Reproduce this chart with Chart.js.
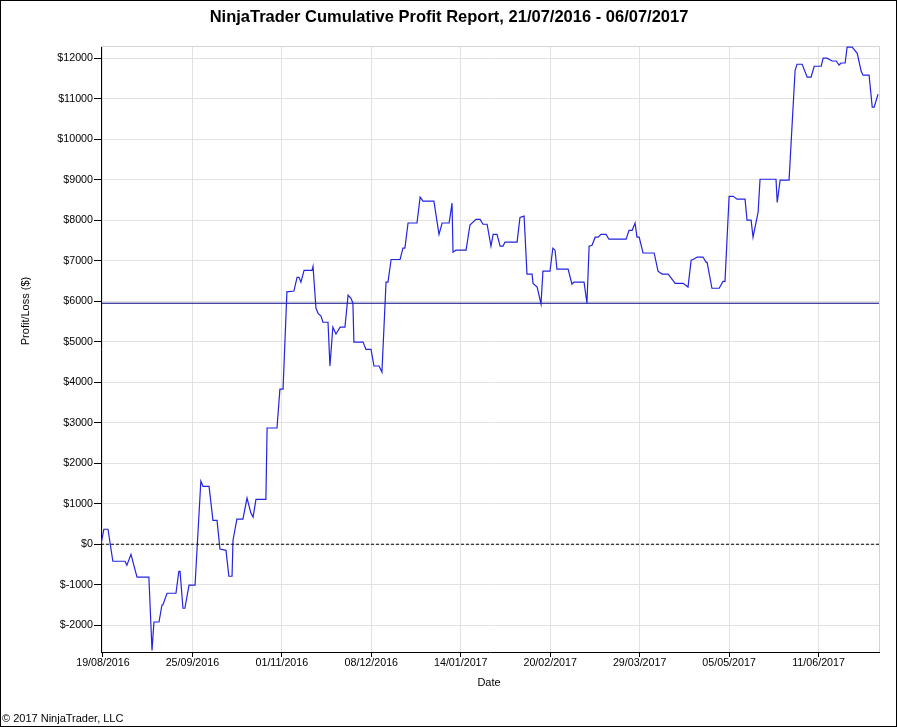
<!DOCTYPE html>
<html>
<head>
<meta charset="utf-8">
<script src="https://cdn.jsdelivr.net/npm/chart.js@4.4.1/dist/chart.umd.min.js"></script>
<style>
html,body{margin:0;padding:0;background:#fff;}
#wrap{width:898px;height:727px;position:relative;}
canvas{display:block;}
</style>
</head>
<body>
<div id="wrap"><canvas id="c" width="898" height="727"></canvas></div>
<script>
// ---- data (days counted from 19/08/2016) ----
const titleText = "NinjaTrader Cumulative Profit Report, 21/07/2016 - 06/07/2017";
const tickLabels = ["19/08/2016","25/09/2016","01/11/2016","08/12/2016","14/01/2017","20/02/2017","29/03/2017","05/05/2017","11/06/2017"];
const tickDays = [0,37,74,111,148,185,222,259,296];
const yTicks = [-2000,-1000,0,1000,2000,3000,4000,5000,6000,7000,8000,9000,10000,11000,12000];
const days = [
 -0.8,0.4,2.1,4.1,9.1,9.9,11.6,14.1,19.0,20.3,21.1,23.2,24.4,24.8,26.5,30.2,31.4,31.9,33.1,33.9,
 35.6,38.1,40.5,41.4,43.9,45.5,47.2,48.4,50.9,52.1,53.4,53.8,55.4,57.9,59.6,60.0,61.2,62.1,63.3,67.4,
 67.9,72.0,73.2,74.5,76.1,79.0,80.3,81.1,81.9,83.2,86.5,86.9,88.1,89.0,90.2,91.0,93.1,93.9,95.1,96.4,
 98.1,100.1,101.4,102.6,103.4,103.8,107.6,108.8,110.9,112.1,114.2,115.4,117.1,117.9,119.2,122.9,124.1,124.9,126.2,129.9,
 131.2,132.4,136.9,139.0,140.3,143.2,144.4,144.8,146.0,150.2,151.8,154.3,156.0,157.2,158.9,160.5,161.4,163.0,164.3,165.5,
 166.3,171.3,172.5,174.2,175.4,177.5,177.9,179.6,181.2,182.0,184.9,186.1,187.0,187.8,192.4,194.0,194.8,199.0,200.2,201.1,
 202.3,203.6,204.8,206.0,208.1,209.3,216.4,217.6,218.9,220.1,220.9,221.8,223.4,228.0,229.6,231.3,233.8,236.7,240.0,242.0,
 243.3,244.5,245.8,248.2,249.5,249.9,251.9,254.9,256.5,257.3,259.0,260.7,262.3,265.6,266.4,268.1,268.9,271.0,271.8,278.4,
 278.9,280.1,283.8,286.3,287.1,289.2,291.3,292.9,294.2,297.1,297.9,299.5,301.6,303.3,304.5,305.3,307.0,307.8,309.9,312.0,
 313.6,314.4,316.9,318.2,319.0,320.6
];
const profit = [
 0,370,370,-420,-420,-520,-250,-810,-810,-2620,-1920,-1920,-1500,-1500,-1210,-1210,-670,-670,-1580,-1580,
 -1010,-1010,1560,1430,1430,590,590,-120,-150,-790,-790,100,620,620,1140,1140,770,670,1110,1110,
 2870,2870,3830,3830,6230,6250,6590,6590,6470,6760,6760,6860,5830,5700,5630,5480,5480,4400,5360,5190,
 5360,5360,6150,6070,5950,4990,4990,4810,4810,4400,4400,4250,6470,6470,7030,7030,7310,7310,7930,7930,
 8570,8470,8470,7650,7930,7930,8420,7210,7260,7260,7880,8020,8020,7900,7900,7360,7650,7650,7360,7360,
 7460,7460,8070,8100,6670,6670,6440,6350,5930,6740,6740,7310,7260,6790,6790,6420,6470,6470,5950,7360,
 7380,7580,7580,7650,7650,7530,7530,7750,7750,7930,7580,7580,7190,7190,6740,6670,6670,6440,6440,6350,
 7010,7040,7090,7090,6960,6960,6320,6320,6490,6490,8590,8590,8520,8520,8000,8000,7580,8200,9010,9010,
 8440,8990,8990,11700,11850,11850,11530,11530,11800,11800,12000,12000,11930,11930,11830,11880,11880,12270,12270,12120,
 11680,11580,11580,10790,10790,11110
];
const avgValue = 5950;
const xRange = [-0.8, 321];
const yRange = [-2660, 12300];

const FONT = "'Liberation Sans', Arial, sans-serif";
Chart.defaults.font.family = FONT;
Chart.defaults.color = '#000';

const points = days.map((d, i) => ({x: d, y: profit[i]}));
const zeroPts = xRange.map(x => ({x: x, y: 0}));
const avgPts = xRange.map(x => ({x: x, y: avgValue}));

const decor = {
  id: 'decor',
  beforeDatasetsDraw(chart) {
    const {ctx, chartArea: a} = chart;
    ctx.save();
    ctx.strokeStyle = '#d4d4d4';
    ctx.lineWidth = 1;
    ctx.beginPath();
    ctx.moveTo(a.left, Math.round(a.top) + 0.5);
    ctx.lineTo(Math.round(a.right) + 0.5, Math.round(a.top) + 0.5);
    ctx.lineTo(Math.round(a.right) + 0.5, a.bottom);
    ctx.stroke();
    ctx.restore();
  },
  afterDraw(chart) {
    const ctx = chart.ctx;
    ctx.save();
    ctx.fillStyle = '#000';
    ctx.textAlign = 'center';
    ctx.textBaseline = 'middle';
    ctx.font = "bold 16.5px " + FONT;
    ctx.fillText(titleText, 449, 17.5);
    ctx.font = "11px " + FONT;
    ctx.fillText("Date", 489, 683);
    ctx.save();
    ctx.translate(26, 311);
    ctx.rotate(-Math.PI / 2);
    ctx.fillText("Profit/Loss ($)", 0, 0);
    ctx.restore();
    ctx.textAlign = 'left';
    ctx.font = "11px " + FONT;
    ctx.fillText("\u00A9 2017 NinjaTrader, LLC", 2, 719);
    ctx.strokeStyle = '#000';
    ctx.lineWidth = 1;
    ctx.strokeRect(0.5, 0.5, 896, 726);
    ctx.restore();
  }
};

new Chart(document.getElementById('c'), {
  type: 'line',
  data: {
    datasets: [
      {data: zeroPts, borderColor: '#000', borderWidth: 1, borderDash: [3, 2], pointRadius: 0, tension: 0},
      {data: points, borderColor: 'rgb(35,35,225)', borderWidth: 1.2, pointRadius: 0, tension: 0},
      {data: avgPts, borderColor: '#000080', borderWidth: 1, pointRadius: 0, tension: 0}
    ]
  },
  options: {
    responsive: false,
    animation: false,
    devicePixelRatio: 1,
    layout: {padding: {left: 0, right: 19, top: 46, bottom: 0}},
    plugins: {legend: {display: false}, title: {display: false}, tooltip: {enabled: false}},
    scales: {
      x: {
        type: 'linear',
        min: xRange[0], max: xRange[1],
        afterBuildTicks: s => { s.ticks = tickDays.map(v => ({value: v})); },
        afterFit: s => { s.height = 75; },
        ticks: {
          autoSkip: false, maxRotation: 0, padding: 0, color: '#000',
          font: {size: 10.7},
          callback: v => { const i = tickDays.indexOf(v); return i >= 0 ? tickLabels[i] : ''; }
        },
        grid: {color: '#e2e2e2', tickColor: '#000', tickLength: 5, lineWidth: 1},
        border: {color: '#000', width: 1}
      },
      y: {
        type: 'linear',
        min: yRange[0], max: yRange[1],
        afterBuildTicks: s => { s.ticks = yTicks.map(v => ({value: v})); },
        afterFit: s => { s.width = 101; },
        ticks: {
          padding: 1, color: '#000', font: {size: 10.7},
          callback: v => '$' + v
        },
        grid: {color: '#e2e2e2', tickColor: '#000', tickLength: 7, lineWidth: 1},
        border: {color: '#000', width: 1}
      }
    }
  },
  plugins: [decor]
});
</script>
</body>
</html>
